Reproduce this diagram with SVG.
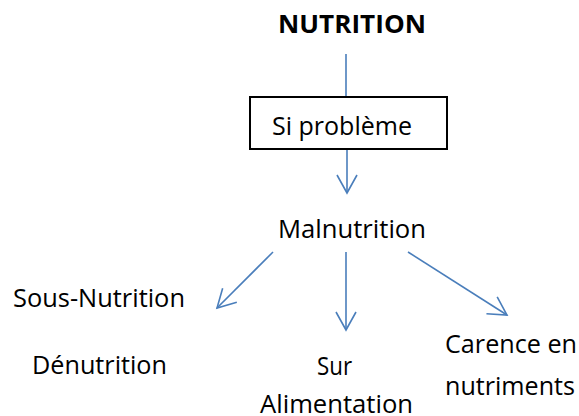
<svg xmlns="http://www.w3.org/2000/svg" width="579" height="416" viewBox="0 0 579 416">
  <defs>
    <marker id="arrow" markerUnits="userSpaceOnUse" markerWidth="24" markerHeight="24" viewBox="-20 -12 24 24" refX="0" refY="0" orient="auto">
      <path d="M -18 -10 L 0 0 L -18 10" fill="none" stroke="#4a7ebb" stroke-width="1.6" stroke-linejoin="miter"/>
    </marker>
  </defs>
  <style>
    .lbl { font-family: "Open Sans", "Noto Sans", sans-serif; font-size: 25.5px; fill: #000; }
    .title { font-weight: bold; }
    .edge { fill: none; stroke: #4a7ebb; stroke-width: 1.6; }
    .box { fill: #fff; stroke: #000; stroke-width: 2; }
  </style>
  <rect width="579" height="416" fill="#fff"/>

  <g id="connectors">
    <line class="edge" x1="346" y1="54" x2="346" y2="97"/>
    <line class="edge" x1="347" y1="149" x2="347" y2="193" marker-end="url(#arrow)"/>
    <line class="edge" x1="273" y1="252" x2="217" y2="308" marker-end="url(#arrow)"/>
    <line class="edge" x1="346" y1="252" x2="346" y2="330" marker-end="url(#arrow)"/>
    <line class="edge" x1="408" y1="252" x2="507" y2="315" marker-end="url(#arrow)"/>
  </g>

  <g id="nutrition">
    <text class="lbl title" x="278" y="33" textLength="148" lengthAdjust="spacingAndGlyphs">NUTRITION</text>
  </g>

  <g id="si-probleme">
    <rect class="box" x="250" y="97" width="197" height="52"/>
    <text class="lbl" x="272" y="135" textLength="140" lengthAdjust="spacingAndGlyphs">Si problème</text>
  </g>

  <g id="malnutrition">
    <text class="lbl" x="278" y="238" textLength="148" lengthAdjust="spacingAndGlyphs">Malnutrition</text>
  </g>

  <g id="sous-nutrition">
    <text class="lbl" x="13" y="307" textLength="172" lengthAdjust="spacingAndGlyphs">Sous-Nutrition</text>
    <text class="lbl" x="32" y="374" textLength="135" lengthAdjust="spacingAndGlyphs">Dénutrition</text>
  </g>

  <g id="sur-alimentation">
    <text class="lbl" x="317" y="375" textLength="35" lengthAdjust="spacingAndGlyphs">Sur</text>
    <text class="lbl" x="260" y="413" textLength="153" lengthAdjust="spacingAndGlyphs">Alimentation</text>
  </g>

  <g id="carence">
    <text class="lbl" x="445" y="353" textLength="132" lengthAdjust="spacingAndGlyphs">Carence en</text>
    <text class="lbl" x="445" y="395" textLength="130" lengthAdjust="spacingAndGlyphs">nutriments</text>
  </g>
</svg>
